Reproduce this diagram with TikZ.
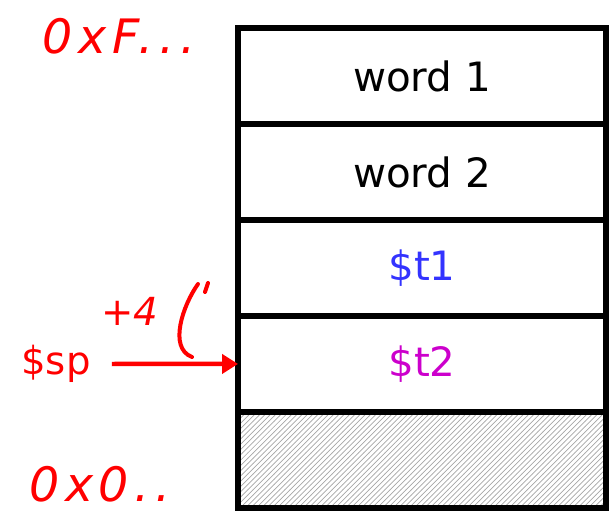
\documentclass[tikz,border=0pt]{standalone}
\usepackage{fontspec}
\setmainfont{DejaVu Sans}
\usetikzlibrary{positioning, patterns, arrows.meta}

\definecolor{regblue}{RGB}{51,51,255}
\definecolor{regmagenta}{RGB}{204,0,204}
\definecolor{inkred}{RGB}{255,0,0}

\begin{document}
\begin{tikzpicture}[x=0.02cm, y=-0.02cm, node distance=0pt]
  \tikzstyle{cell}=[draw, line width=0.11cm, outer sep=0pt, minimum width=7.36cm, minimum height=1.92cm, inner sep=0pt, font=\fontsize{23}{27}\selectfont]
  \tikzstyle{hatchcell}=[cell, pattern=north east lines, pattern color=black!35]
  \tikzstyle{reglabel}=[text=inkred, font=\fontsize{22}{26}\selectfont]
  \tikzstyle{handnote}=[text=inkred, font=\fontsize{27}{31}\selectfont\itshape\addfontfeatures{LetterSpace=12}]
  \tikzstyle{inkstroke}=[draw=inkred, line width=0.08cm, line cap=round]
  \useasboundingbox (0,0) rectangle (609,511);

  % stack, top to bottom
  \node[cell] (w1) at (422,76) {word 1};
  \node[cell, below=of w1] (w2) {word 2};
  \node[cell, below=of w2, text=regblue] (t1) {\$t1};
  \node[cell, below=of t1, text=regmagenta] (t2) {\$t2};
  \node[hatchcell, below=of t2] (free) {};

  % stack pointer
  \node[reglabel] (sp) at (56,364) {\$sp};
  \draw[inkstroke, line width=0.09cm, line cap=butt, -{Triangle[length=0.32cm, width=0.38cm]}, shorten <=0.3cm] (sp.east) -- (t2.west);

  % handwritten notes
  \node[handnote] (hi) at (119,36) {0xF...};
  \node[handnote] (lo) at (100,484) {0x0..};
  \node[handnote, font=\fontsize{22}{26}\selectfont\itshape] (off) at (130,311) {+4};
  \coordinate (curltop) at (198,284);
  \coordinate (curlend) at (192,357);
  \draw[inkstroke] (curltop) .. controls (183,305) and (168,348) .. (curlend);
  \draw[inkstroke] (208,283) -- (205,292);

\end{tikzpicture}
\end{document}
